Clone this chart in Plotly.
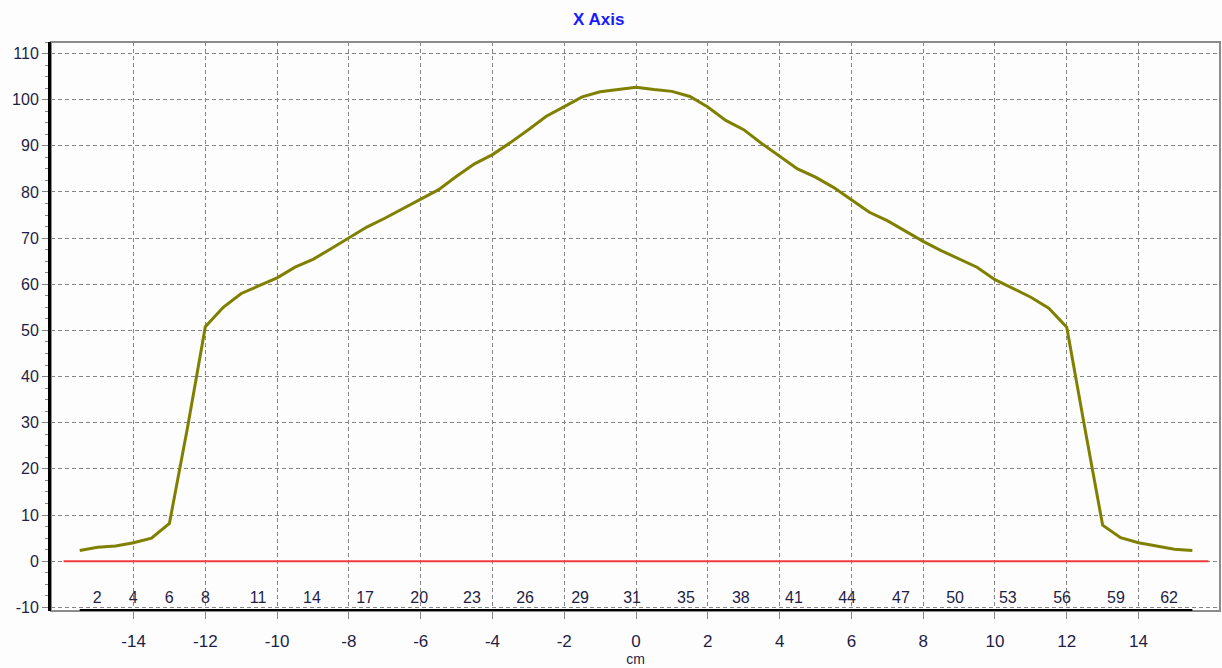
import plotly.graph_objects as go

# ---- data ----
x_cm = [-15.5, -15, -14.5, -14, -13.5, -13, -12.5, -12, -11.5, -11, -10.5, -10,
        -9.5, -9, -8.5, -8, -7.5, -7, -6.5, -6, -5.5, -5, -4.5, -4, -3.5, -3,
        -2.5, -2, -1.5, -1, -0.5, 0, 0.5, 1, 1.5, 2, 2.5, 3, 3.5, 4, 4.5, 5,
        5.5, 6, 6.5, 7, 7.5, 8, 8.5, 9, 9.5, 10, 10.5, 11, 11.5, 12, 12.5, 13,
        13.5, 14, 14.5, 15, 15.5]
dose = [2.3, 3.0, 3.3, 4.0, 5.0, 8.2, 28.8, 50.8, 55.0, 58.0, 59.7, 61.4,
        63.7, 65.4, 67.7, 70.0, 72.4, 74.3, 76.4, 78.4, 80.5, 83.4, 86.1, 88.1, 90.7, 93.5,
        96.4, 98.5, 100.6, 101.7, 102.2, 102.7, 102.2, 101.8, 100.7, 98.4, 95.5, 93.5, 90.5, 87.8, 85.0, 83.2,
        81.0, 78.3, 75.6, 73.8, 71.6, 69.3, 67.3, 65.5, 63.7, 61.0, 59.1, 57.2, 54.8, 50.7, 29.0, 7.8,
        5.1, 4.0, 3.3, 2.6, 2.3]

baseline_x = [-15.95, 15.95]
baseline_y = [0, 0]

index_labels = ["2", "4", "6", "8", "11", "14", "17", "20", "23", "26", "29",
                "31", "35", "38", "41", "44", "47", "50", "53", "56", "59", "62"]
index_pos = [-15.01, -14.01, -13.01, -12.0, -10.53, -9.03, -7.55, -6.04, -4.57,
             -3.09, -1.56, -0.11, 1.39, 2.92, 4.40, 5.88, 7.38, 8.89, 10.36,
             11.87, 13.37, 14.85]
index_row_y = -8.2

x_ticks = [-14, -12, -10, -8, -6, -4, -2, 0, 2, 4, 6, 8, 10, 12, 14]
y_ticks = [-10, 0, 10, 20, 30, 40, 50, 60, 70, 80, 90, 100, 110]

X_RANGE = [-16.3, 16.27]
Y_RANGE = [-10.8, 112.5]

GRID = "#858585"
LABEL = "#1e1e46"
FONT = "Liberation Sans, Arial, sans-serif"

fig = go.Figure()

# red baseline
fig.add_trace(go.Scatter(x=baseline_x, y=baseline_y, mode="lines",
                         line=dict(color="rgb(240,60,60)", width=2),
                         hoverinfo="skip", showlegend=False))
# profile
fig.add_trace(go.Scatter(x=x_cm, y=dose, mode="lines",
                         line=dict(color="#808000", width=3),
                         showlegend=False))
# thick black bottom axis segment spanning the data
fig.add_trace(go.Scatter(x=[x_cm[0], x_cm[-1]], y=[Y_RANGE[0], Y_RANGE[0]],
                         mode="lines", line=dict(color="black", width=4),
                         cliponaxis=False, hoverinfo="skip", showlegend=False))
# index labels row
fig.add_trace(go.Scatter(x=index_pos, y=[index_row_y] * len(index_pos),
                         mode="text", text=index_labels,
                         textfont=dict(family=FONT, size=16, color=LABEL),
                         hoverinfo="skip", showlegend=False))

fig.update_layout(
    width=1222, height=668,
    margin=dict(l=51, r=2, t=42, b=57),
    paper_bgcolor="#fdfdfd", plot_bgcolor="#fdfdfd",
    font=dict(family=FONT, color=LABEL),
    title=dict(text="<b>X Axis</b>", x=0.49, xanchor="center", y=0.972, yanchor="middle",
               xref="container", yref="container",
               font=dict(family=FONT, size=17, color="#1a1aff")),
    shapes=[dict(type="rect", xref="paper", yref="paper", x0=0, x1=1, y0=0, y1=1,
                 line=dict(color="#8c8c8c", width=2), layer="below")],
)

fig.update_xaxes(
    range=X_RANGE, tickvals=x_ticks, ticktext=[str(v) for v in x_ticks],
    automargin=False,
    showgrid=True, gridcolor=GRID, griddash="4px,3px", gridwidth=1,
    zeroline=False, showline=False,
    ticks="outside", ticklen=7, tickcolor=GRID, tickwidth=1,
    ticklabelstandoff=8,
    tickfont=dict(family=FONT, size=17, color=LABEL),
    title=dict(text="cm", font=dict(family=FONT, size=14, color=LABEL), standoff=2),
)
fig.update_yaxes(
    range=Y_RANGE, tickvals=y_ticks, ticktext=[str(v) for v in y_ticks],
    automargin=False,
    showgrid=True, gridcolor=GRID, griddash="4px,3px", gridwidth=1,
    zeroline=False, showline=True, linecolor="black", linewidth=3,
    ticks="outside", ticklen=6, tickcolor=GRID, tickwidth=1,
    minor=dict(dtick=2.5, ticks="outside", ticklen=3, tickcolor=GRID, showgrid=False),
    tickfont=dict(family=FONT, size=16, color=LABEL),
)

fig.write_html(
    "out.html",
    config={"displayModeBar": False},
    post_script="document.body.style.margin='0';document.body.style.overflow='hidden';",
)
